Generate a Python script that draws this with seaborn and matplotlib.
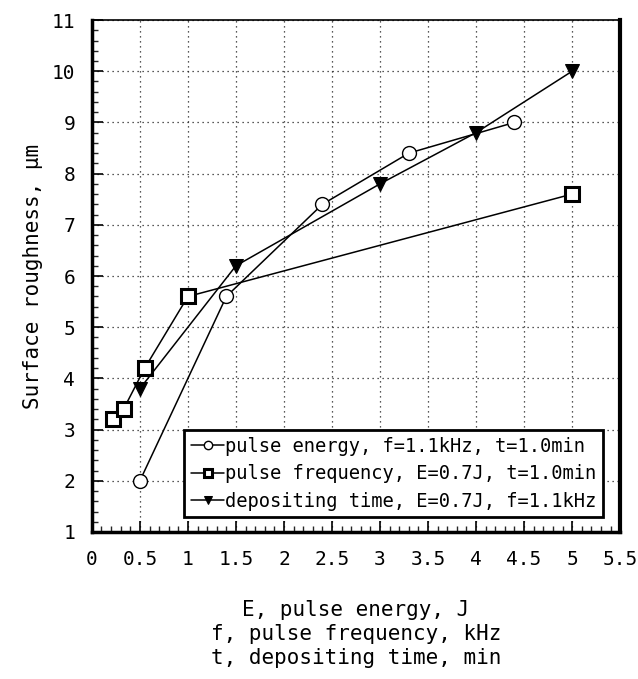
import matplotlib
matplotlib.use("Agg")
import matplotlib.pyplot as plt
import matplotlib.ticker as mticker
import seaborn as sns
import pandas as pd

# data
energy_x = [0.5, 1.4, 2.4, 3.3, 4.4]
energy_y = [2.0, 5.6, 7.4, 8.4, 9.0]
freq_x = [0.22, 0.33, 0.55, 1.0, 5.0]
freq_y = [3.2, 3.4, 4.2, 5.6, 7.6]
time_x = [0.5, 1.5, 3.0, 4.0, 5.0]
time_y = [3.8, 6.2, 7.8, 8.8, 10.0]

labels = ["pulse energy, f=1.1kHz, t=1.0min",
          "pulse frequency, E=0.7J, t=1.0min",
          "depositing time, E=0.7J, f=1.1kHz"]

df_e = pd.DataFrame({"x": energy_x, "y": energy_y})
df_f = pd.DataFrame({"x": freq_x, "y": freq_y})
df_t = pd.DataFrame({"x": time_x, "y": time_y})

sns.set_theme(style="ticks")
plt.rcParams['font.family'] = ['DejaVu Sans Mono', 'DejaVu Sans']
plt.rcParams['text.color'] = 'black'
plt.rcParams['axes.labelcolor'] = 'black'

fig = plt.figure(figsize=(6.38, 6.79), dpi=100)
ax = fig.add_axes([0.144, 0.2165, 0.828, 0.754])

sns.lineplot(data=df_e, x="x", y="y", ax=ax, sort=False, color="black", lw=1.1,
             marker="o", markersize=10, markerfacecolor="white", markeredgecolor="black",
             markeredgewidth=1.0, label=labels[0])
sns.lineplot(data=df_f, x="x", y="y", ax=ax, sort=False, color="black", lw=1.1,
             marker="s", markersize=9.5, markerfacecolor="white", markeredgecolor="black",
             markeredgewidth=2.2, label=labels[1])
sns.lineplot(data=df_t, x="x", y="y", ax=ax, sort=False, color="black", lw=1.1,
             marker="v", markersize=10, markerfacecolor="black", markeredgecolor="black",
             label=labels[2])

ax.set_xlim(0, 5.5)
ax.set_ylim(1, 11)
ax.xaxis.set_major_locator(mticker.MultipleLocator(0.5))
ax.xaxis.set_minor_locator(mticker.MultipleLocator(0.1))
ax.yaxis.set_major_locator(mticker.MultipleLocator(1))
ax.yaxis.set_minor_locator(mticker.MultipleLocator(0.2))
ax.xaxis.set_major_formatter(mticker.FuncFormatter(lambda v, p: f"{v:g}"))
ax.tick_params(which="major", direction="in", length=8, width=1.2, labelsize=14,
               colors="black", pad=13)
ax.tick_params(which="minor", direction="in", length=4, width=1.0)
ax.tick_params(axis="y", pad=12)

ax.grid(True, which="major", linestyle=(0, (1, 3)), color="#222222", lw=0.9)

for side, w in [("left", 2.5), ("bottom", 2.5), ("right", 3.0), ("top", 1.2)]:
    ax.spines[side].set_visible(True)
    ax.spines[side].set_linewidth(w)
    ax.spines[side].set_color("black")

ax.set_xlabel("E, pulse energy, J\nf, pulse frequency, kHz\nt, depositing time, min",
              fontsize=15, labelpad=22, linespacing=1.25)
ax.set_ylabel("Surface roughness, \u03bcm", fontsize=15, labelpad=6)

leg = ax.legend(loc="lower right", bbox_to_anchor=(0.968, 0.029), fontsize=13.5,
                frameon=True, fancybox=False, handlelength=1.8, handletextpad=0.05,
                markerscale=0.6, borderpad=0.35, labelspacing=0.45, borderaxespad=0)
leg.get_frame().set_edgecolor("black")
leg.get_frame().set_linewidth(2.0)
leg.get_frame().set_alpha(1)

fig.savefig("out.png", dpi=100)
